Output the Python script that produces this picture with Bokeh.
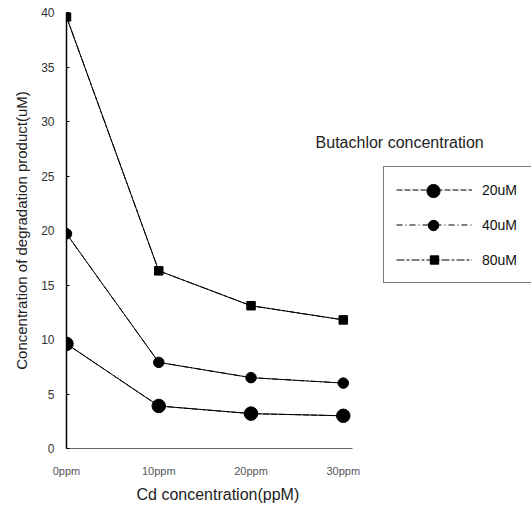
from bokeh.plotting import figure
from bokeh.models import Range1d, FixedTicker, Legend, LegendItem, Label, Title
from bokeh.embed import file_html
from bokeh.resources import INLINE

cd_labels = ["0ppm", "10ppm", "20ppm", "30ppm"]
cd_ppm = [0, 10, 20, 30]
series_names = ["20uM", "40uM", "80uM"]
butachlor_20 = [9.6, 3.9, 3.2, 3.0]
butachlor_40 = [19.7, 7.9, 6.5, 6.0]
butachlor_80 = [39.6, 16.3, 13.1, 11.8]
y_ticks = [0, 5, 10, 15, 20, 25, 30, 35, 40]

FONT = "Liberation Sans"

p = figure(width=531, height=508, x_range=Range1d(0, 50.4), y_range=Range1d(0, 40),
           output_backend="svg", toolbar_location=None,
           min_border_left=66, min_border_right=0, min_border_top=12, min_border_bottom=60)
p.xgrid.visible = False
p.ygrid.visible = False
p.outline_line_color = None
p.background_fill_color = "white"
p.border_fill_color = "white"

# x axis (line limited to the data span)
p.xaxis.bounds = (0, 31)
p.xaxis.ticker = FixedTicker(ticks=cd_ppm)
p.xaxis.major_label_overrides = {k: v for k, v in zip(cd_ppm, cd_labels)}
p.xaxis.axis_line_color = "#666666"
p.xaxis.axis_line_width = 1
p.xaxis.major_tick_in = 0
p.xaxis.major_tick_out = 0
p.xaxis.minor_tick_line_color = None
p.xaxis.major_label_standoff = 16
p.xaxis.major_label_text_font = FONT
p.xaxis.major_label_text_font_size = "11px"
p.xaxis.major_label_text_color = "#555555"

xtitle = Title(text="Cd concentration(ppM)", align="left", offset=70, standoff=9,
               text_font=FONT, text_font_size="16px", text_font_style="normal",
               text_color="#222222")
p.add_layout(xtitle, "below")

p.yaxis.ticker = FixedTicker(ticks=y_ticks)
p.yaxis.axis_label = "Concentration of degradation product(uM)"
p.yaxis.axis_line_color = "black"
p.yaxis.axis_line_width = 1.5
p.yaxis.major_tick_in = 3
p.yaxis.major_tick_out = 0
p.yaxis.minor_tick_line_color = None
p.yaxis.major_label_standoff = 12
p.yaxis.major_label_text_font = FONT
p.yaxis.major_label_text_font_size = "12px"
p.yaxis.major_label_text_color = "#333333"
p.yaxis.axis_label_text_font = FONT
p.yaxis.axis_label_text_font_size = "15px"
p.yaxis.axis_label_text_font_style = "normal"
p.yaxis.axis_label_text_color = "#222222"
p.yaxis.axis_label_standoff = 8

series = [
    (series_names[0], butachlor_20, "circle", 13.5, "6 2"),
    (series_names[1], butachlor_40, "circle", 10.5, "6 3 1 3"),
    (series_names[2], butachlor_80, "square", 8.5, "8 2 3 2"),
]

items = []
markers = []
for name, ys, marker, size, dash in series:
    dashed = p.line(cd_ppm, ys, line_color="black", line_width=1, line_dash=dash)
    p.line(cd_ppm, ys, line_color="black", line_width=1)
    m = p.scatter(cd_ppm, ys, marker=marker, size=size, fill_color="black", line_color="black")
    markers.append(m)
    items.append(LegendItem(label=name, renderers=[dashed, m]))

legend = Legend(items=items, location=(317, 165), orientation="vertical",
                border_line_color="black", border_line_width=1, background_fill_color="white",
                background_fill_alpha=1, padding=12, spacing=14, glyph_width=76, glyph_height=21,
                label_standoff=10, label_width=150, margin=0,
                label_text_font=FONT, label_text_font_size="14px", label_text_color="#111111")
p.add_layout(legend, "center")

# larger legend markers for the two circle series (overlay legends without box)
for m, gh, loc in [(markers[0], 33, (329, 241)), (markers[1], 26, (329, 210))]:
    ov = Legend(items=[LegendItem(label=" ", renderers=[m])], location=loc,
                border_line_color=None, background_fill_alpha=0, padding=0, margin=0,
                glyph_width=76, glyph_height=gh, label_width=1, label_standoff=0,
                label_text_font_size="1px")
    p.add_layout(ov, "center")

title = Label(x=27, y=28.1, text="Butachlor concentration", text_font=FONT,
              text_font_size="16px", text_color="#222222", text_baseline="middle", text_align="left")
p.add_layout(title)

open("out.html", "w").write(file_html(p, INLINE))
